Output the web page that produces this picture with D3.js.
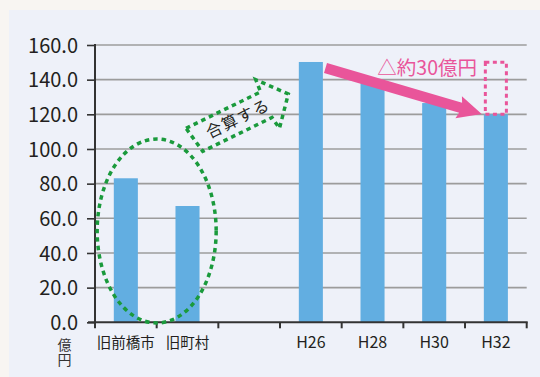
<!DOCTYPE html>
<html><head><meta charset="utf-8">
<script src="https://cdn.jsdelivr.net/npm/d3@7"></script>
<style>
html,body{margin:0;padding:0;background:#f8f5f2;}
svg{display:block;}
text{font-family:"Noto Sans CJK JP","Noto Sans",sans-serif;}
</style></head>
<body><svg id="c" width="540" height="377"></svg>
<script>
const categories = ["旧前橋市","旧町村","","H26","H28","H30","H32"];
const values = [83.1, 67.1, null, 150.2, 138, 126.5, 120];
const yTicks = [0,20,40,60,80,100,120,140,160];
const unitLabel = "億円";
const mergeLabel = "合算する";
const reduceLabel = "△約30億円";
const reduceFrom = 150, reduceTo = 120;

const svg = d3.select("#c");
svg.append("rect").attr("x",9).attr("y",10).attr("width",531).attr("height",367).attr("fill","#eef1f9");

const x = d3.scaleBand().domain(categories).range([95,526.7]).padding(0);
const y = d3.scaleLinear().domain([0,160]).range([322.3,45]);
const step = x.step();
const bw = step*0.39, boff = (step-bw)/2;

// gridlines
svg.append("g").selectAll("line").data(yTicks.filter(d=>d>0)).join("line")
  .attr("x1",95).attr("x2",526.7).attr("y1",d=>y(d)).attr("y2",d=>y(d))
  .attr("stroke","#9c9c9c").attr("stroke-width",1.6);

// bars
const data = categories.map((c,i)=>({c,v:values[i]})).filter(d=>d.v!=null);
svg.append("g").selectAll("rect").data(data).join("rect")
  .attr("x",d=>x(d.c)+boff).attr("width",bw)
  .attr("y",d=>y(d.v)).attr("height",d=>y(0)-y(d.v))
  .attr("fill","#62aee1");

// y axis
const ya = svg.append("g").attr("transform","translate(95,0)")
  .call(d3.axisLeft(y).tickValues(yTicks).tickFormat(d3.format(".1f")).tickSize(8).tickPadding(9));
ya.select(".domain").remove();
ya.selectAll(".tick line").attr("stroke","#333").attr("stroke-width",1.6);
ya.selectAll("text").attr("font-size",20).attr("fill","#231f20").attr("dy","0.36em");
svg.append("line").attr("x1",95).attr("x2",95).attr("y1",44).attr("y2",328).attr("stroke","#333").attr("stroke-width",2);

// x axis
svg.append("line").attr("x1",88).attr("x2",527.7).attr("y1",y(0)).attr("y2",y(0)).attr("stroke","#333").attr("stroke-width",2);
const bounds = categories.map(c=>x(c)).concat([x.range()[1]]);
svg.append("g").selectAll("line").data(bounds).join("line")
  .attr("x1",d=>d).attr("x2",d=>d).attr("y1",y(0)).attr("y2",y(0)+6)
  .attr("stroke","#333").attr("stroke-width",2);
svg.append("g").selectAll("text").data(categories).join("text")
  .attr("x",d=>x(d)+step/2).attr("y",347.5).attr("text-anchor","middle")
  .attr("font-size",d=>/^H/.test(d)?16:14.5).attr("fill","#231f20").text(d=>d);

// unit label (vertical)
svg.append("text").attr("x",64.5).attr("y",338).attr("writing-mode","tb")
  .attr("font-size",14).attr("letter-spacing",1).attr("fill","#333").text(unitLabel);

// green ellipse
const green = "#1a9a3c";
svg.append("ellipse").attr("cx",(x("旧前橋市")+x("旧町村")+step)/2).attr("cy",231).attr("rx",59.5).attr("ry",92)
  .attr("fill","none").attr("stroke",green).attr("stroke-width",3.5).attr("stroke-dasharray","4.5,4");

// green arrow
const ga = svg.append("g").attr("transform","translate(186,128.3) rotate(-26)");
const arrowPts = [[0,0],[83,0],[84,-13],[107,14],[84,41],[82,28],[5,28]];
ga.append("path").attr("d",d3.line()(arrowPts)+"Z")
  .attr("fill","none").attr("stroke",green).attr("stroke-width",3.5).attr("stroke-dasharray","4.5,4");
ga.append("text").attr("x",51).attr("y",14).attr("dy","0.36em").attr("text-anchor","middle")
  .attr("font-size",16).attr("letter-spacing",1.2).attr("fill","#231f20").text(mergeLabel);

// pink dotted rect
const pink = "#e9559a";
const lastC = categories[categories.length-1];
svg.append("rect").attr("x",x(lastC)+boff+1.5).attr("width",bw-3)
  .attr("y",y(reduceFrom)).attr("height",y(reduceTo)-y(reduceFrom))
  .attr("fill","none").attr("stroke",pink).attr("stroke-width",3).attr("stroke-dasharray","4,3.5");

// pink arrow
const x0 = 325.5, y0 = 68, x1 = 481.7, y1 = 114;
const len = Math.hypot(x1-x0,y1-y0), ang = Math.atan2(y1-y0,x1-x0)*180/Math.PI;
const pa = svg.append("g").attr("transform",`translate(${x0},${y0}) rotate(${ang})`);
const hw = 5.3, hl = 22, hh = 11.5;
pa.append("path").attr("d",d3.line()([[0,-hw],[len-hl,-hw],[len-hl-2,-hh],[len,0],[len-hl-2,hh],[len-hl,hw],[0,hw]])+"Z")
  .attr("fill",pink);

svg.append("text").attr("x",477).attr("y",75).attr("text-anchor","end")
  .attr("font-size",19.5).attr("fill",pink).text(reduceLabel);
</script></body></html>
